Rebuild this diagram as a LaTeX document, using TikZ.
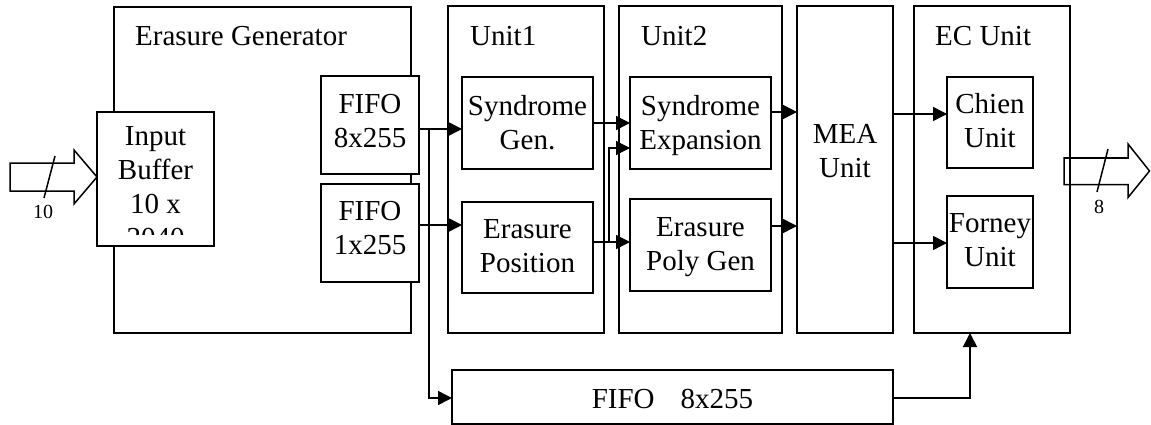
\documentclass[tikz,border=0pt]{standalone}
\usepackage{fontspec}
\setmainfont{Liberation Serif}
\usetikzlibrary{arrows.meta}
\begin{document}
\begin{tikzpicture}[x=1pt,y=-1pt,
  box/.style={draw, line width=1.5pt, fill=white, inner sep=0pt, outer sep=0pt, anchor=north west},
  txt/.style={font=\fontsize{29}{34}\selectfont, inner sep=0pt, align=center, anchor=north},
  lbl/.style={font=\fontsize{29}{34}\selectfont, inner sep=0pt, anchor=base west},
  wire/.style={line width=1.5pt},
  arr/.style={wire, -{Triangle[length=14pt,width=14pt]}},
  bus/.style={draw, line width=1.5pt, line join=miter},
  small/.style={font=\fontsize{20}{22}\selectfont, inner sep=0pt, anchor=base}]
\useasboundingbox (0,0) rectangle (1151,425);

% boxes
\node[box, minimum width=297pt, minimum height=326pt] (eg) at (114,7) {};
\node[box, minimum width=117pt, minimum height=134pt] (ib) at (97,112) {};
\node[box, minimum width=98pt, minimum height=98pt] (fifoA) at (321,76) {};
\node[box, minimum width=98pt, minimum height=98pt] (fifoB) at (321,184) {};
\node[box, minimum width=156pt, minimum height=327pt] (u1) at (448,6) {};
\node[box, minimum width=131pt, minimum height=92pt] (sg) at (462,77) {};
\node[box, minimum width=131pt, minimum height=91pt] (ep) at (462,202) {};
\node[box, minimum width=163pt, minimum height=327pt] (u2) at (619,6) {};
\node[box, minimum width=141pt, minimum height=92pt] (se) at (630,77) {};
\node[box, minimum width=141pt, minimum height=92pt] (epg) at (630,199) {};
\node[box, minimum width=96pt, minimum height=327pt] (mea) at (797,6) {};
\node[box, minimum width=156pt, minimum height=327pt] (ec) at (914,6) {};
\node[box, minimum width=86pt, minimum height=91pt] (chien) at (947,77) {};
\node[box, minimum width=86pt, minimum height=92pt] (forney) at (947,196) {};
\node[box, minimum width=441pt, minimum height=54pt] (big) at (452,370) {};

% row / column helpers
\coordinate (rA) at (0,129);
\coordinate (rB) at (0,225);
\coordinate (rC) at (0,123);
\coordinate (rD) at (0,242);
\coordinate (rE) at (0,148);
\coordinate (rF) at (0,112);
\coordinate (rG) at (0,226);
\coordinate (rH) at (0,114);
\coordinate (rI) at (0,243);
\coordinate (rJ) at (0,398);
\coordinate (rIn) at (0,177);
\coordinate (cJ) at (429,0);
\coordinate (cBend) at (609,0);
\coordinate (cEc) at (970,0);

% connectors
\draw[arr] (fifoA.east |- rA) -- (sg.west |- rA);
\draw[arr] (cJ |- rA) |- (big.west |- rJ);
\draw[arr] (fifoB.east |- rB) -- (ep.west |- rB);
\draw[arr] (sg.east |- rC) -- (se.west |- rC);
\draw[arr] (ep.east |- rD) -- (epg.west |- rD);
\draw[arr] (cBend |- rD) |- (se.west |- rE);
\draw[arr] (se.east |- rF) -- (mea.west |- rF);
\draw[arr] (epg.east |- rG) -- (mea.west |- rG);
\draw[arr] (mea.east |- rH) -- (chien.west |- rH);
\draw[arr] (mea.east |- rI) -- (forney.west |- rI);
\draw[arr] (big.east |- rJ) -| (ec.south -| cEc);

% input bus arrow
\coordinate (inTip) at (ib.west |- rIn);
\draw[bus] (inTip) -- ++(-23,-27) -- ++(0,13) -- ++(-64,0) -- ++(0,28) -- ++(64,0) -- ++(0,13) -- cycle;
\draw[wire] (55,156) -- (44,198);
\node[small] (n10) at (43,218) {10};

% output bus arrow
\coordinate (outS) at (1064,171);
\draw[bus] (outS) ++(0,-13) -- ++(64,0) -- ++(0,-14) -- (1149.5,171) -- ++(-21.5,26.5) -- ++(0,-13) -- ++(-64,0) -- cycle;
\draw[wire] (1108,149) -- (1097,192);
\node[small] (n8) at (1099,213) {8};

% texts
\node[lbl] (egT) at (135,46) {Erasure Generator};
\node[lbl] (u1T) at (470,46) {Unit1};
\node[lbl] (u2T) at (641,46) {Unit2};
\node[lbl] (ecT) at (935,46) {EC Unit};
\begin{scope}
\clip (97,112) rectangle (214,234);
\node[txt] (ibT) at (155.5,126.8) {Input\\Buffer\\10 x\\2040};
\end{scope}
\node[txt] (fifoAT) at (370,93.8) {FIFO\\8x255};
\node[txt] (fifoBT) at (370,200.8) {FIFO\\1x255};
\node[txt] (sgT) at (527.5,95.2) {Syndrome\\Gen.};
\node[txt] (epT) at (527.5,219.8) {Erasure\\Position};
\node[txt] (seT) at (700.5,95.2) {Syndrome\\Expansion};
\node[txt] (epgT) at (700.5,217.8) {Erasure\\Poly Gen};
\node[txt] (meaT) at (845,123.8) {MEA\\Unit};
\node[txt] (chienT) at (990,93.2) {Chien\\Unit};
\node[txt] (forneyT) at (990,213.8) {Forney\\Unit};
\node[lbl, anchor=base] (bigT) at (672.5,408) {FIFO\hspace{26pt}8x255};
\end{tikzpicture}
\end{document}
